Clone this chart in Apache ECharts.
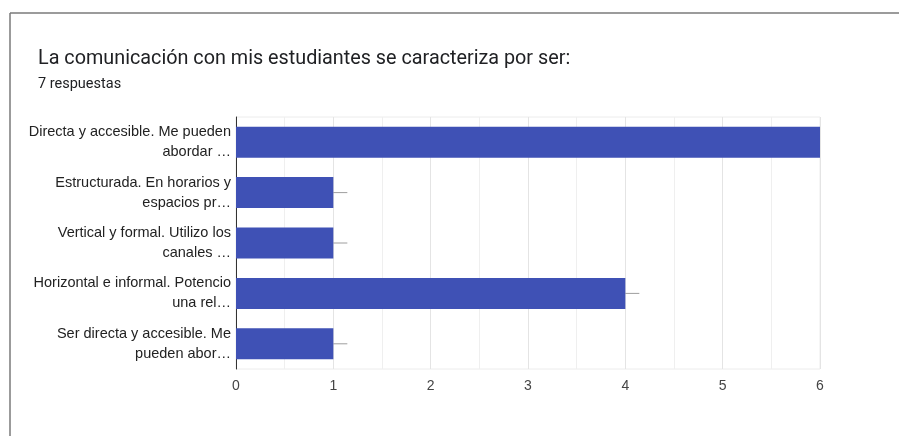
<!DOCTYPE html>
<html>
<head>
<meta charset="utf-8">
<script src="https://cdn.jsdelivr.net/npm/echarts@6/dist/echarts.min.js"></script>
<style>
html,body{margin:0;padding:0;background:#fff;}
#chart{width:899px;height:436px;}
</style>
</head>
<body>
<div id="chart"></div>
<script>
const titleText = "La comunicación con mis estudiantes se caracteriza por ser:";
const subtitleText = "7 respuestas";
const categories = [
  "Directa y accesible. Me pueden\nabordar …",
  "Estructurada. En horarios y\nespacios pr…",
  "Vertical y formal. Utilizo los\ncanales …",
  "Horizontal e informal. Potencio\nuna rel…",
  "Ser directa y accesible. Me\npueden abor…"
];
const values = [6, 1, 1, 4, 1];
const axisMin = 0;
const axisMax = 6;
const axisStep = 1;

const chart = echarts.init(document.getElementById('chart'), null, {renderer: 'canvas'});
chart.setOption({
  animation: false,
  backgroundColor: '#ffffff',
  title: [
    {
      text: titleText, left: 33, top: 44,
      textStyle: {fontFamily: 'Roboto', fontSize: 19.8, fontWeight: 'normal', color: '#202124'}
    },
    {
      text: subtitleText, left: 33, top: 72,
      textStyle: {fontFamily: 'Roboto', fontSize: 14.5, fontWeight: 'normal', color: '#202124'}
    }
  ],
  graphic: [
    {type: 'line', shape: {x1: 10, y1: 13, x2: 899, y2: 13}, style: {stroke: '#7a7a7a', lineWidth: 1.5}},
    {type: 'line', shape: {x1: 10, y1: 13, x2: 10, y2: 436}, style: {stroke: '#7a7a7a', lineWidth: 1.5}}
  ],
  grid: {
    left: 236, right: 79, top: 117, bottom: 67,
    show: true, borderColor: '#ececec', borderWidth: 1, backgroundColor: 'transparent'
  },
  xAxis: {
    type: 'value', min: axisMin, max: axisMax, interval: axisStep,
    axisLine: {show: false},
    axisTick: {show: false},
    axisLabel: {fontFamily: 'Arial, Liberation Sans', fontSize: 14, color: '#444', margin: 10},
    splitLine: {show: true, lineStyle: {color: '#e4e4e4', width: 1}},
    minorTick: {show: false, splitNumber: 2},
    minorSplitLine: {show: true, lineStyle: {color: '#efefef', width: 1}}
  },
  yAxis: {
    type: 'category', data: categories, inverse: true,
    axisLine: {show: true, lineStyle: {color: '#333', width: 1}},
    axisTick: {show: false},
    axisLabel: {fontFamily: 'Arial, Liberation Sans', fontSize: 14.5, color: '#222', margin: 5, lineHeight: 20, align: 'right'},
    splitLine: {show: false}
  },
  series: [
    {
      type: 'bar', data: values, barWidth: 31,
      itemStyle: {color: '#3f51b5'},
      z: 2
    },
    {
      type: 'custom', z: 1, clip: true,
      data: values.map((v, i) => [v, i]),
      renderItem: function (params, api) {
        const p = api.coord([api.value(0), api.value(1)]);
        return {
          type: 'line',
          shape: {x1: p[0], y1: p[1], x2: p[0] + 14, y2: p[1]},
          style: {stroke: '#9e9e9e', lineWidth: 1}
        };
      }
    }
  ]
});
</script>
</body>
</html>
